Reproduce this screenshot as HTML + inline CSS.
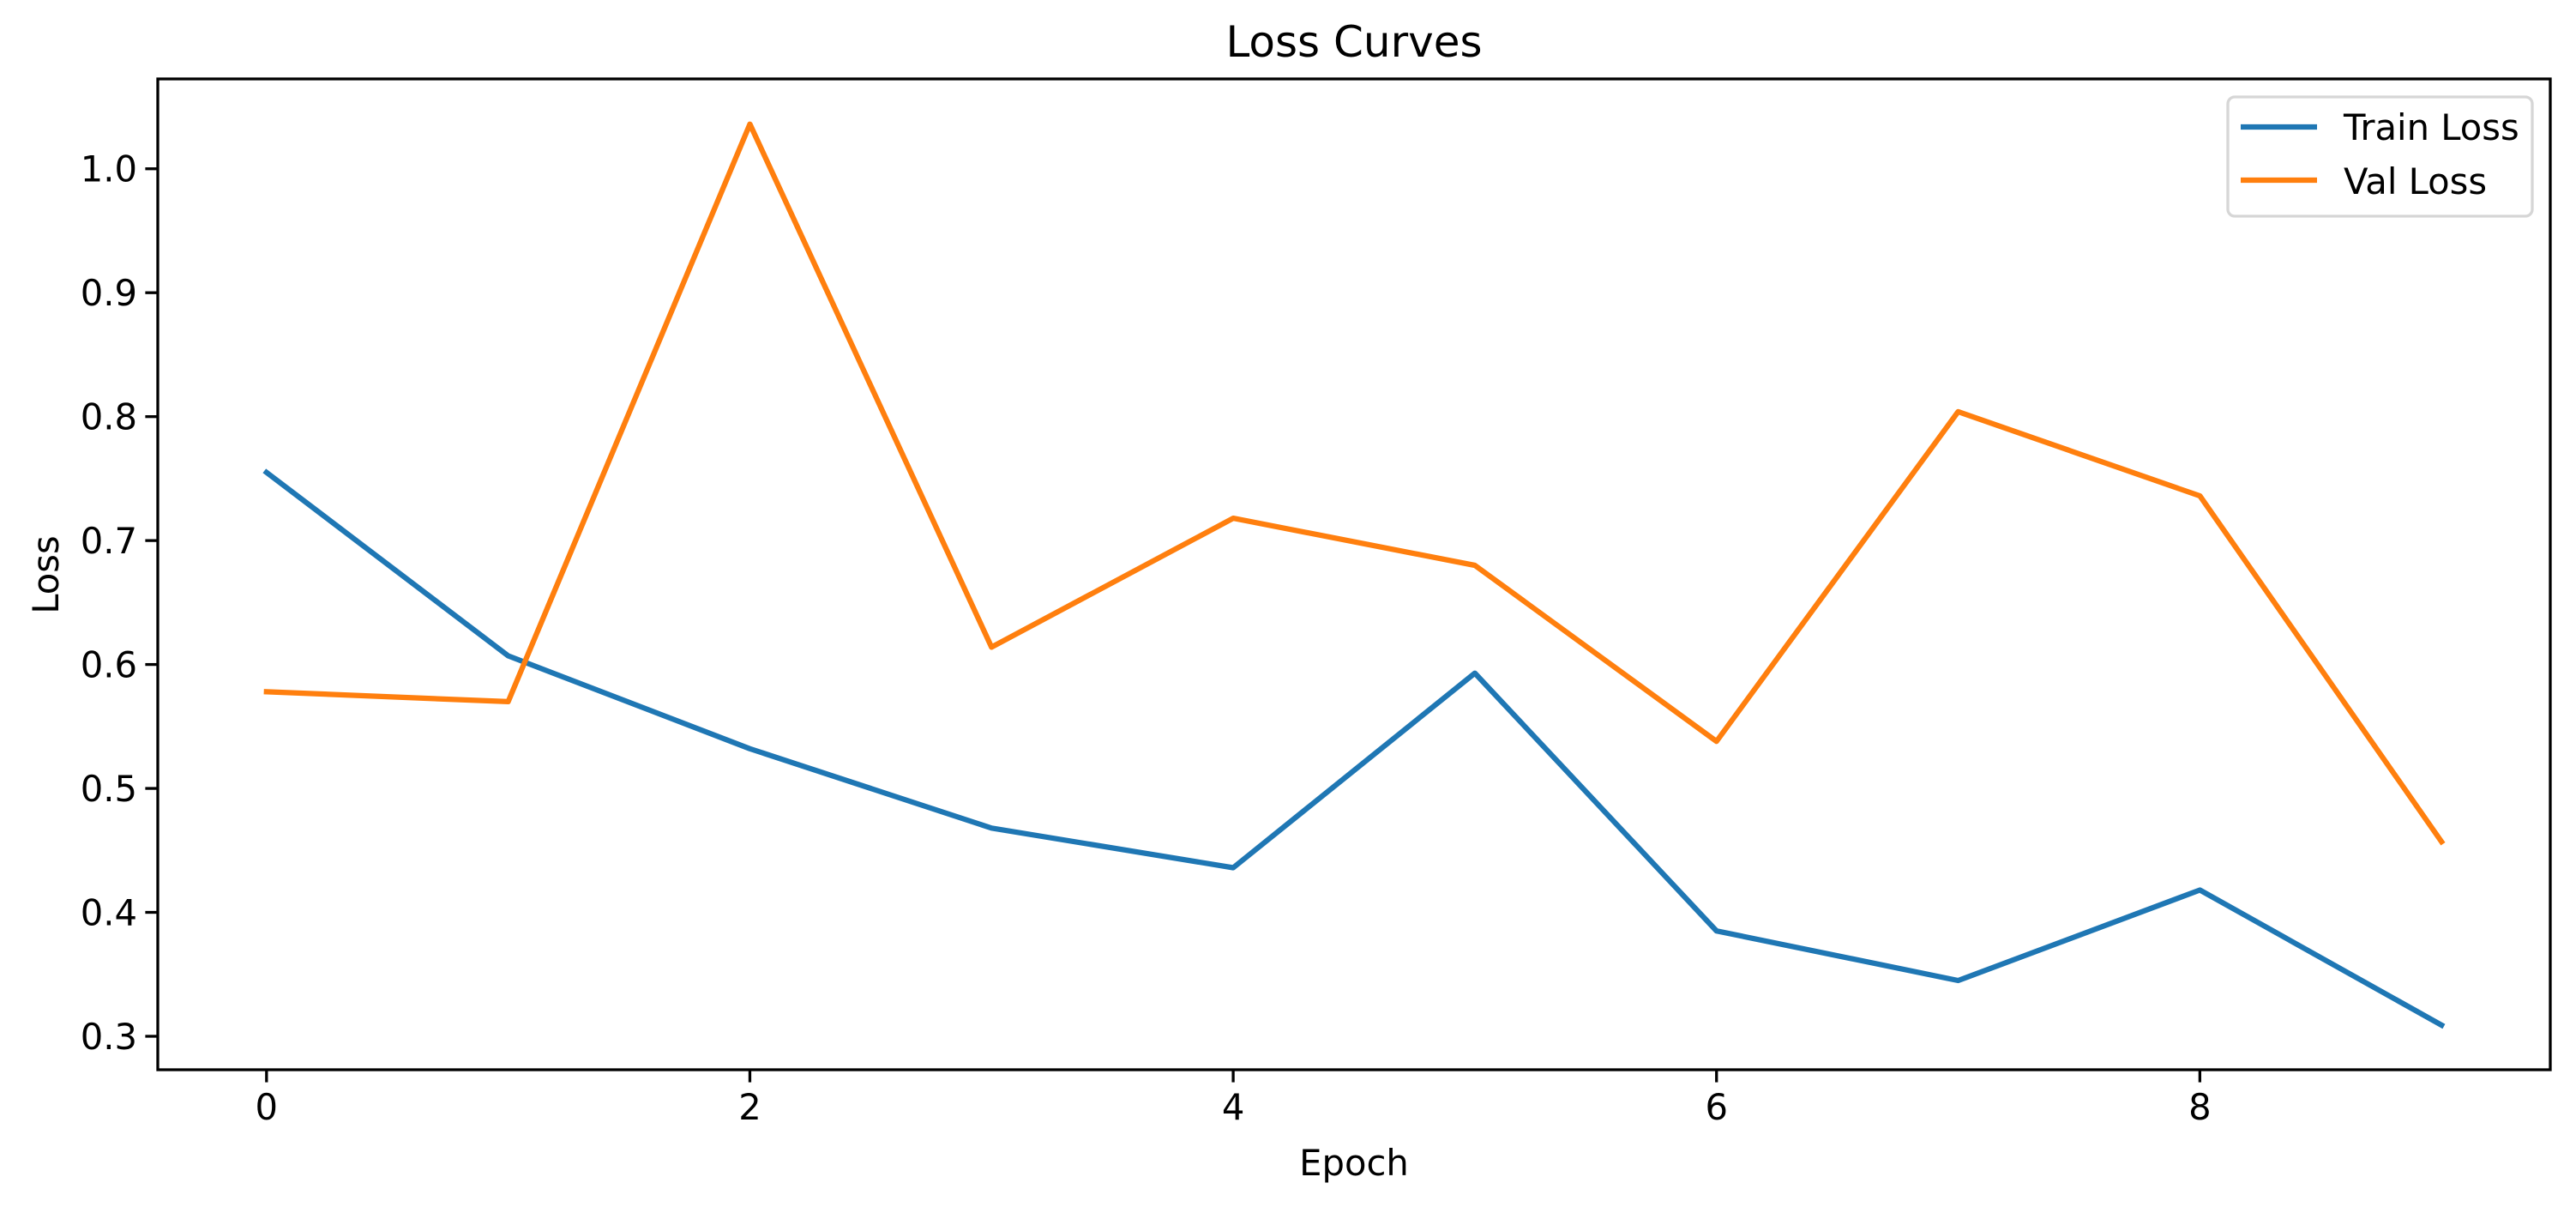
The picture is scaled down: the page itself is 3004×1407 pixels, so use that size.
<!DOCTYPE html>
<html><head><meta charset="utf-8"><style>
html,body{margin:0;padding:0;background:#fff;}
svg{display:block;font-family:"DejaVu Sans","Liberation Sans",sans-serif;}
</style></head><body>
<svg id="chart" width="3004" height="1407" viewBox="0 0 3004 1407" xmlns="http://www.w3.org/2000/svg">
<rect width="3004" height="1407" fill="#fff"/>
<text x="1579" y="66" font-size="50" text-anchor="middle">Loss Curves</text>
<g id="plot"></g>
<text x="1579" y="1370" font-size="41.7" text-anchor="middle">Epoch</text>
<text transform="translate(68,670) rotate(-90)" font-size="41.7" text-anchor="middle">Loss</text>
<g>
<rect x="2598" y="113" width="355" height="139" rx="8" fill="#fff" fill-opacity="0.8" stroke="#d6d6d6" stroke-width="3.3"/>
<line x1="2613" y1="148" x2="2702" y2="148" stroke="#1f77b4" stroke-width="6.25"/>
<text x="2733" y="163" font-size="41.7">Train Loss</text>
<line x1="2613" y1="210" x2="2702" y2="210" stroke="#ff7f0e" stroke-width="6.25"/>
<text x="2733" y="226" font-size="41.7">Val Loss</text>
</g>
</svg>
<script>
const epochs = [0,1,2,3,4,5,6,7,8,9];
const trainLoss = [0.755,0.607,0.532,0.468,0.436,0.593,0.385,0.345,0.418,0.309];
const valLoss = [0.578,0.570,1.036,0.614,0.718,0.680,0.538,0.804,0.736,0.457];
const xTicks = [0,2,4,6,8];
const yTicks = [0.3,0.4,0.5,0.6,0.7,0.8,0.9,1.0];

const L=184,R=2974,T=92,B=1247;
const xMin=-0.45,xMax=9.45;
const yMin=0.273,yMax=1.0725;
function sx(v){return L+(v-xMin)/(xMax-xMin)*(R-L);}
function sy(v){return B-(v-yMin)/(yMax-yMin)*(B-T);}
const NS='http://www.w3.org/2000/svg';
const g=document.getElementById('plot');
function mk(tag,attrs){const e=document.createElementNS(NS,tag);for(const k in attrs)e.setAttribute(k,attrs[k]);g.appendChild(e);return e;}

function series(vals,color,name){
  const d=vals.map((v,i)=>(i?'L':'M')+sx(epochs[i]).toFixed(1)+','+sy(v).toFixed(1)).join(' ');
  const p=mk('path',{d:d,fill:'none',stroke:color,'stroke-width':6.25,'stroke-linejoin':'round','stroke-linecap':'square'});
  
  
}
series(trainLoss,'#1f77b4','train-loss-line');
series(valLoss,'#ff7f0e','val-loss-line');

const frame=mk('rect',{x:L,y:T,width:R-L,height:B-T,fill:'none',stroke:'#000','stroke-width':3.3});



xTicks.forEach(t=>{
  const x=sx(t);
  const tk=mk('line',{x1:x,y1:B,x2:x,y2:B+14.6,stroke:'#000','stroke-width':3.3});
  
  
  const tx=mk('text',{x:x,y:B+58,'font-size':41.7,'text-anchor':'middle'});
  tx.textContent=t;
  
  
});
yTicks.forEach(t=>{
  const y=sy(t);
  const tk=mk('line',{x1:L-14.6,y1:y,x2:L,y2:y,stroke:'#000','stroke-width':3.3});
  
  
  const tx=mk('text',{x:L-24,y:y+15,'font-size':41.7,'text-anchor':'end'});
  tx.textContent=t.toFixed(1);
  
  
});
</script>
</body></html>
